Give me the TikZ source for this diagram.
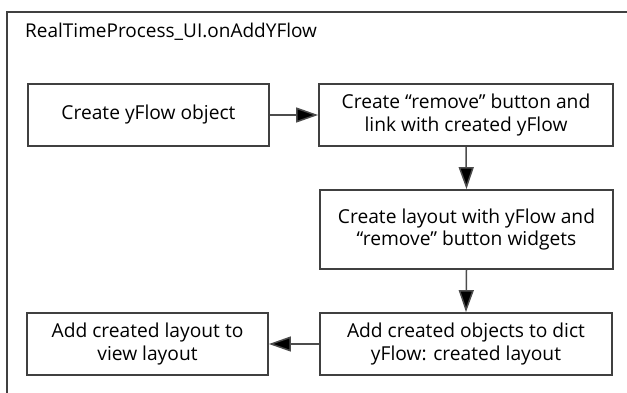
\documentclass[tikz,border=0pt]{standalone}
\usepackage{fontspec}
\setmainfont{Open Sans}
\usetikzlibrary{arrows.meta}
\begin{document}
\begin{tikzpicture}[x=1pt,y=-1pt,
  frame/.style={draw=black!75,line width=1.4pt},
  stepbox/.style={draw=black!75,line width=1.8pt,fill=white,align=center,
    inner sep=0pt,font=\fontsize{19.2}{22.5}\selectfont},
  flow/.style={draw=black!70,line width=1.5pt,
    -{Triangle[length=22pt,width=15pt,fill=black]}},
  titlefont/.style={font=\fontsize{19}{22}\selectfont}]
  \useasboundingbox (0,0) rectangle (627,392);
  \clip (0,0) rectangle (627,392);
  % outer frame (runs past the right and bottom edges)
  \draw[frame] (7,12) rectangle (660,420);
  \node[titlefont,anchor=base west,inner sep=0pt] (title) at (25,37) {RealTimeProcess\_UI.onAddYFlow};
  % steps
  \node[stepbox,minimum width=241pt,minimum height=62pt] (b1) at (148.5,115) {Create yFlow object};
  \node[stepbox,minimum width=294pt,minimum height=62pt] (b2) at (466,115) {Create “remove” button and\\link with created yFlow};
  \node[stepbox,minimum width=293pt,minimum height=79pt] (b3) at (466.5,229.5) {Create layout with yFlow and\\“remove” button widgets};
  \node[stepbox,minimum width=292pt,minimum height=62pt] (b4) at (466,344) {Add created objects to dict\\yFlow: created layout};
  \node[stepbox,minimum width=241pt,minimum height=62pt] (b5) at (147.5,344) {Add created layout to\\view layout};
  % connectors
  \draw[flow] (b1.east) -- (b2.west);
  \draw[flow] (b2.south) -- (b3.north);
  \draw[flow] (b3.south) -- (b4.north);
  \draw[flow] (b4.west) -- (b5.east);
\end{tikzpicture}
\end{document}
